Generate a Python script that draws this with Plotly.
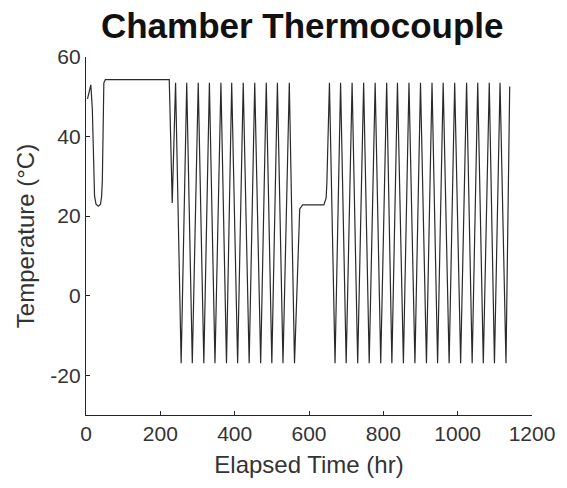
import plotly.graph_objects as go

# ---- data (time in hours, temperature in °C) ----
warmup_t = [4, 13, 17, 23, 27, 33, 39, 42, 44, 48, 52, 224, 232]
warmup_c = [49.5, 53, 47, 25, 23, 22.5, 23, 25, 29, 53.5, 54.3, 54.3, 23.3]

cycle1_peak_t = [241, 271, 302, 332, 363, 392, 423, 454, 485, 515, 547]
cycle1_trough_t = [256, 286, 317, 347, 378, 408, 439, 470, 500, 530, 561]

dwell_t = [575, 583, 640, 646, 648]
dwell_c = [21.8, 22.8, 22.8, 24.5, 28.0]

cycle2_peak_t = [655, 685, 716, 747, 778, 809, 838, 869, 900, 931, 961,
                 992, 1024, 1054, 1085, 1114]
cycle2_trough_t = [670, 700, 731, 762, 793, 823, 854, 885, 916, 946, 977,
                   1008, 1039, 1069, 1099, 1130]

end_t = [1140]
end_c = [52.6]

peak_c = 53.5
trough_c = -17.0

x_ticks = [0, 200, 400, 600, 800, 1000, 1200]
y_ticks = [-20, 0, 20, 40, 60]

# ---- assemble the polyline from the read values ----
t, c = list(warmup_t), list(warmup_c)
for p, q in zip(cycle1_peak_t, cycle1_trough_t):
    t += [p, q]
    c += [peak_c, trough_c]
t += dwell_t
c += dwell_c
for p, q in zip(cycle2_peak_t, cycle2_trough_t):
    t += [p, q]
    c += [peak_c, trough_c]
t += end_t
c += end_c

FONT = "Liberation Sans, Arial, Helvetica, sans-serif"
INK = "#262626"

fig = go.Figure(go.Scatter(x=t, y=c, mode="lines",
                           line=dict(color="#2a2a2a", width=1.2),
                           hoverinfo="skip"))

fig.update_layout(
    width=567, height=488,
    margin=dict(l=86, r=30, t=57, b=73),
    paper_bgcolor="white", plot_bgcolor="white",
    showlegend=False,
    font=dict(family=FONT, color=INK),
    title=dict(text="<b>Chamber Thermocouple</b>",
               font=dict(family=FONT, size=35, color="#111"),
               x=0.533, xref="container", xanchor="center",
               y=0.948, yref="container", yanchor="middle"),
)

fig.update_xaxes(
    range=[0, 1200], tickvals=x_ticks, ticktext=[str(v) for v in x_ticks],
    showgrid=False, zeroline=False, showline=True, linecolor=INK, linewidth=1.3,
    ticks="inside", ticklen=4, tickcolor=INK, tickwidth=1.3,
    tickfont=dict(size=21, color="#333"),
    title=dict(text="Elapsed Time (hr)", font=dict(size=24, color="#333"), standoff=11),
    mirror=False,
)
fig.update_yaxes(
    range=[-30, 60], tickvals=y_ticks, ticktext=[str(v) for v in y_ticks],
    showgrid=False, zeroline=False, showline=True, linecolor=INK, linewidth=1.3,
    ticks="inside", ticklen=4, tickcolor=INK, tickwidth=1.3,
    tickfont=dict(size=21, color="#333"),
    title=dict(text="Temperature (°C)", font=dict(size=24, color="#333"), standoff=8),
    mirror=False,
)

fig.write_html("out.html")
